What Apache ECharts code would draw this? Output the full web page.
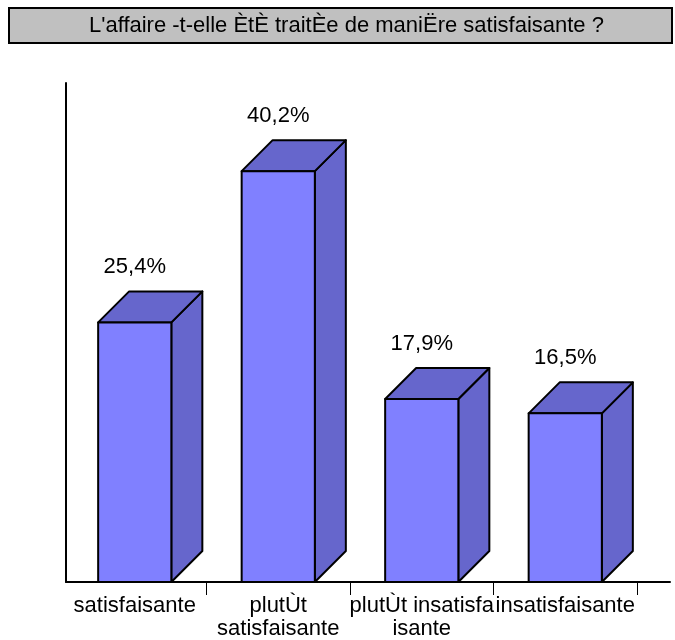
<!DOCTYPE html>
<html>
<head>
<meta charset="utf-8">
<script src="https://cdn.jsdelivr.net/npm/echarts@6/dist/echarts.min.js"></script>
<style>
  html, body { margin: 0; padding: 0; background: #fff; }
  #chart { width: 675px; height: 640px; }
</style>
</head>
<body>
<div id="chart"></div>
<script>
// données
const titre = "L'affaire -t-elle ÈtÈ traitÈe de maniËre satisfaisante ?";
const categories = ['satisfaisante', 'plutÙt\nsatisfaisante', 'plutÙt insatisfa\nisante', 'insatisfaisante'];
const valeurs = [25.4, 40.2, 17.9, 16.5];

const police = "'Liberation Sans', Arial, sans-serif";
const profondeur = 31;

const chart = echarts.init(document.getElementById('chart'));

// barre 3D : face avant + dessus + côté
const renderBar = (params, api) => {
  const haut = api.coord([api.value(0), api.value(1)]);
  const bas = api.coord([api.value(0), 0]);
  const w = api.size([1, 0])[0] * 0.51;
  const l = haut[0] - w / 2;
  const r = haut[0] + w / 2;
  const y = haut[1];
  const b = bas[1];
  const d = profondeur;
  const trait = { stroke: '#000', lineWidth: 2, lineJoin: 'round' };
  return {
    type: 'group',
    children: [
      {
        type: 'polygon',
        shape: { points: [[r, y], [r + d, y - d], [r + d, b - d], [r, b]] },
        style: { fill: '#6666CC', ...trait },
      },
      {
        type: 'polygon',
        shape: { points: [[l, y], [l + d, y - d], [r + d, y - d], [r, y]] },
        style: { fill: '#6666CC', ...trait },
      },
      {
        type: 'rect',
        shape: { x: l, y: y, width: w, height: b - y },
        style: { fill: '#8080FF', ...trait },
      },
      {
        type: 'text',
        style: {
          x: haut[0],
          y: y - d - 24,
          text: String(api.value(1)).replace('.', ',') + '%',
          fill: '#000',
          font: '22px ' + police,
          align: 'center',
          verticalAlign: 'middle',
        },
      },
    ],
  };
};

const option = {
  animation: false,
  title: {
    text: titre,
    left: 9,
    top: 8,
    padding: [6, 68, 5, 80],
    backgroundColor: '#C0C0C0',
    borderColor: '#000',
    borderWidth: 2,
    textStyle: {
      fontFamily: police,
      fontSize: 22,
      fontWeight: 'normal',
      color: '#000',
      lineHeight: 24,
    },
  },
  grid: [
    { left: 63, right: 38, top: 71, bottom: 58 },
    { left: 66, right: 5, top: 83, bottom: 58 },
  ],
  xAxis: [
    {
      type: 'category',
      gridIndex: 0,
      data: categories,
      offset: 5,
      axisLine: { show: false },
      axisTick: {
        show: true,
        length: 13,
        interval: (i) => i > 0,
        lineStyle: { color: '#000', width: 1 },
      },
      axisLabel: {
        interval: 0,
        margin: 7,
        color: '#000',
        fontFamily: police,
        fontSize: 22,
        lineHeight: 23,
      },
    },
    {
      type: 'value',
      gridIndex: 1,
      min: 0,
      max: 1,
      axisLine: { show: true, lineStyle: { color: '#000', width: 2 } },
      axisTick: { show: false },
      axisLabel: { show: false },
      splitLine: { show: false },
    },
  ],
  yAxis: [
    { type: 'value', gridIndex: 0, min: 0, max: 50, show: false },
    {
      type: 'value',
      gridIndex: 1,
      min: 0,
      max: 1,
      axisLine: { show: true, lineStyle: { color: '#000', width: 2 } },
      axisTick: { show: false },
      axisLabel: { show: false },
      splitLine: { show: false },
    },
  ],
  series: [
    {
      type: 'custom',
      xAxisIndex: 0,
      yAxisIndex: 0,
      renderItem: renderBar,
      data: valeurs.map((v, i) => [i, v]),
    },
  ],
};

option && chart.setOption(option);
</script>
</body>
</html>
